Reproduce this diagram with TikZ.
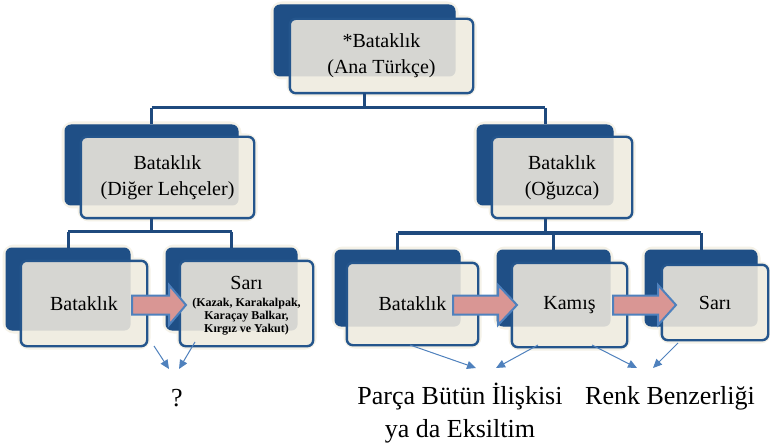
\documentclass[tikz,border=0pt]{standalone}
\usepackage{fontspec}
\setmainfont{Liberation Serif}
\usetikzlibrary{fit,arrows.meta}
\definecolor{backblue}{HTML}{1F4F86}
\definecolor{frontblue}{HTML}{24558C}
\definecolor{creamc}{HTML}{F0EDE2}
\definecolor{glowc}{HTML}{F5F2E8}
\definecolor{greyc}{HTML}{D6D6D2}
\definecolor{connc}{HTML}{1F4A7E}
\definecolor{pinkc}{HTML}{D99694}
\definecolor{lblue}{HTML}{4F81BD}
\tikzset{
  backbox/.style={draw=backblue, fill=backblue, rounded corners=6pt, inner sep=0pt, line width=1pt},
  frontfill/.style={fill=creamc, rounded corners=6pt, inner sep=0pt},
  frontline/.style={draw=frontblue, line width=2.4pt, rounded corners=6pt},
  glowline/.style={draw=glowc, line width=7pt, rounded corners=8pt},
  overlapc/.style={fill=greyc, rounded corners=6pt},
  boxtext/.style={align=center, font=\fontsize{20}{26}\selectfont, inner sep=0pt},
  smalltext/.style={align=center, font=\fontsize{12}{13}\selectfont\bfseries, inner sep=0pt},
  conn/.style={draw=connc, line width=3pt},
  blockarrow/.style={fill=pinkc, draw=lblue, line width=2pt, line join=miter},
  thinarrow/.style={draw=lblue, line width=1pt, -{Triangle[length=9pt,width=8pt]}},
  bottomtext/.style={align=center, font=\fontsize{26}{33}\selectfont, inner sep=0pt}
}
\newcommand\elem[5]{%
  \draw[glowline] #2 rectangle #3;
  \draw[glowline] #4 rectangle #5;
  \node[backbox, fit={#2 #3}] (#1B) {};
  \node[frontfill, fit={#4 #5}] (#1F) {};
  \begin{scope}
    \clip[rounded corners=6pt] (#1B.south west) rectangle (#1B.north east);
    \fill[overlapc] (#1F.south west) rectangle (#1F.north east);
  \end{scope}
  \draw[frontline] (#1F.south west) rectangle (#1F.north east);
}
\newcommand\blockarr[3]{%
  \draw[blockarrow] (#1) ++(0,-9.5) -- ++(#2,0) -- ++(0,-10.5) -- ++(#3,20) -- ++(-#3,20) -- ++(0,-10.5) -- ++(-#2,0) -- cycle;
}
\begin{document}
\begin{tikzpicture}[x=1pt,y=-1pt]
\useasboundingbox (0,0) rectangle (770,446);
\fill[white] (0,0) rectangle (770,446);

\coordinate (barA) at (0,108);
\coordinate (barL) at (0,232);
\coordinate (barR) at (0,233);

% elements
\elem{t}{(274,5)}{(455,76)}{(290,19)}{(473,93)}
\node[boxtext] (tT) at (tF.center) {*Bataklık\\(Ana Türkçe)};
\elem{ml}{(65,125)}{(238,205)}{(81,137)}{(254,218)}
\node[boxtext] (mlT) at (mlF.center) {Bataklık\\(Diğer Lehçeler)};
\elem{mr}{(477,125)}{(613,205)}{(492,137)}{(632,218)}
\node[boxtext] (mrT) at (mrF.center) {Bataklık\\(Oğuzca)};
\elem{la}{(6,248)}{(130,330)}{(21,261)}{(147,346)}
\node[boxtext] (laT) at (laF.center) {Bataklık};
\elem{lb}{(166,248)}{(297,330)}{(180,261)}{(313,346)}
\node[boxtext] (lbT) at (lbF.center |- 0,283) {Sarı};
\node[smalltext] (lbS) at (lbF.center |- 0,317) {(Kazak, Karakalpak,\\Karaçay Balkar,\\Kırgız ve Yakut)};
\elem{ra}{(335,250)}{(460,326)}{(347,263)}{(478,345)}
\node[boxtext] (raT) at (raF.center) {Bataklık};
\elem{rb}{(497,250)}{(610,326)}{(512,263)}{(627,347)}
\node[boxtext] (rbT) at (rbF.center) {Kamış};
\elem{rc}{(645,250)}{(757,326)}{(662,265)}{(768,340)}
\node[boxtext] (rcT) at (rcF.center) {Sarı};

% tree connectors
\draw[conn] (tB.center |- tF.south) -- (tB.center |- barA);
\draw[conn] (mlB.north |- barA) -- (mrB.north |- barA);
\draw[conn] (mlB.north |- barA) -- (mlB.north);
\draw[conn] (mrB.north |- barA) -- (mrB.north);
\draw[conn] (mlB.center |- mlF.south) -- (mlB.center |- barL);
\draw[conn] (laB.north |- barL) -- (lbB.north |- barL);
\draw[conn] (laB.north |- barL) -- (laB.north);
\draw[conn] (lbB.north |- barL) -- (lbB.north);
\draw[conn] (mrB.center |- mrF.south) -- (mrB.center |- barR);
\draw[conn] (raB.north |- barR) -- (rcB.north |- barR);
\draw[conn] (raB.north |- barR) -- (raB.north);
\draw[conn] (rbB.north |- barR) -- (rbB.north);
\draw[conn] (rcB.north |- barR) -- (rcB.north);

% block arrows
\coordinate (arL) at (132,305);
\coordinate (arR1) at (453,305);
\coordinate (arR2) at (613,305);
\blockarr{arL}{37}{17}
\blockarr{arR1}{45}{19}
\blockarr{arR2}{45}{18}

% bottom labels
\node[bottomtext] (q) at (177,398) {?};
\node[bottomtext] (pb) at (460,413) {Parça Bütün İlişkisi\\ya da Eksiltim};
\node[bottomtext] (rk) at (670,398) {Renk Benzerliği};

% thin arrows
\coordinate (s1) at (154,346); \coordinate (e1) at (169,369);
\coordinate (s2) at (195,342); \coordinate (e2) at (179,369);
\coordinate (s3) at (410,345); \coordinate (e3) at (476,368);
\coordinate (s4) at (538,345); \coordinate (e4) at (496,368);
\coordinate (s5) at (592,345); \coordinate (e5) at (637,368);
\coordinate (s6) at (678,343); \coordinate (e6) at (653,368);
\foreach \i in {1,...,6} \draw[thinarrow] (s\i) -- (e\i);
\end{tikzpicture}
\end{document}
